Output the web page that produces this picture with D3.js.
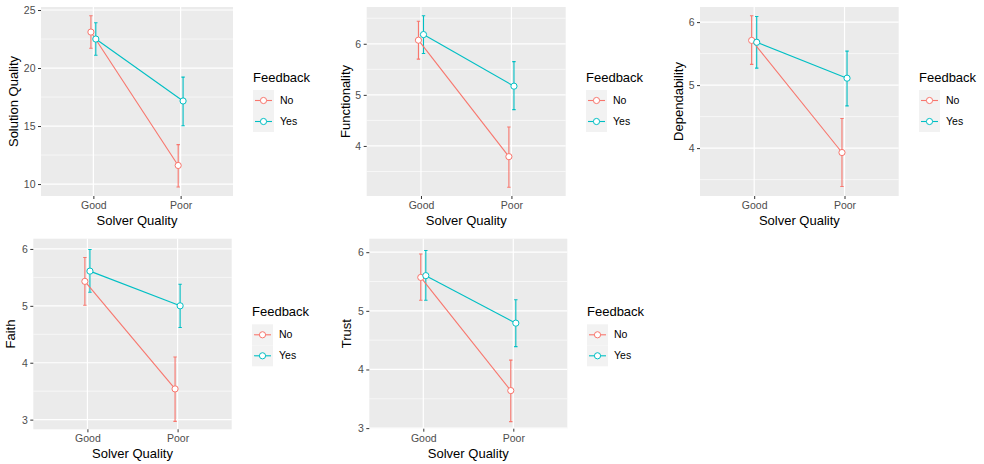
<!DOCTYPE html>
<html>
<head>
<meta charset="utf-8">
<script src="https://cdn.jsdelivr.net/npm/d3@7"></script>
<style>
  body { margin: 0; background: #fff; }
  svg { font-family: "Liberation Sans", Arial, Helvetica, sans-serif; }
</style>
</head>
<body>
<div class="svg-container"></div>
<script>
// Data
var measures = ["Solution Quality", "Functionality", "Dependability", "Faith", "Trust"];
var solverLevels = ["Good", "Poor"];
var feedbackLevels = ["No", "Yes"];

// means [Good, Poor] per measure
var meanNo  = [[23.1, 11.6], [6.07, 3.79], [5.71, 3.93], [5.43, 3.54], [5.57, 3.64]];
var meanYes = [[22.5, 17.16], [6.18, 5.17], [5.68, 5.11], [5.61, 5.00], [5.60, 4.79]];
// error bar ends
var lowNo   = [[21.7, 9.74], [5.70, 3.19], [5.33, 3.39], [5.01, 2.97], [5.18, 3.11]];
var highNo  = [[24.5, 13.4], [6.44, 4.37], [6.10, 4.47], [5.85, 4.10], [5.97, 4.16]];
var lowYes  = [[21.1, 15.03], [5.81, 4.71], [5.27, 4.67], [5.24, 4.62], [5.18, 4.39]];
var highYes = [[23.9, 19.22], [6.55, 5.65], [6.09, 5.54], [5.99, 5.38], [6.03, 5.19]];

// axis limits and ticks
var yDomains = [[8.97, 25.26], [3.02, 6.72], [3.24, 6.24], [2.83, 6.18], [2.99, 6.23]];
var yTicks = [[10, 15, 20, 25], [4, 5, 6], [4, 5, 6], [3, 4, 5, 6], [3, 4, 5, 6]];

var colors = {No: "#F8766D", Yes: "#00BFC4"};

// panel placement
var layout = [
  {left: 41,    right: 233,   top: 7,     bottom: 196,   ytx: 13,    legX: 253,   keyTop: 90},
  {left: 366.7, right: 565.7, top: 7,     bottom: 196,   ytx: 345,   legX: 586,   keyTop: 90},
  {left: 700,   right: 898.7, top: 7,     bottom: 196,   ytx: 678,   legX: 919,   keyTop: 90},
  {left: 33.3,  right: 231.7, top: 238.7, bottom: 429.3, ytx: 10.5,  legX: 252,   keyTop: 324.3},
  {left: 369.3, right: 567.3, top: 238.7, bottom: 428.7, ytx: 346.7, legX: 587,   keyTop: 324.3}
];

var svg = d3.select(".svg-container").append("svg")
    .attr("width", 984)
    .attr("height", 464);

svg.append("rect").attr("width", 984).attr("height", 464).attr("fill", "#fff");

var dodge = 0.028;

measures.forEach(function(measure, i) {
    var L = layout[i];
    var g = svg.append("g");

    var x = d3.scalePoint().domain(solverLevels).range([L.left, L.right]).padding(0.6);
    var y = d3.scaleLinear().domain(yDomains[i]).range([L.bottom, L.top]);
    var step = x.step();

    // panel background
    g.append("rect")
        .attr("x", L.left).attr("y", L.top)
        .attr("width", L.right - L.left).attr("height", L.bottom - L.top)
        .attr("fill", "#EBEBEB");

    // minor grid
    var ticks = yTicks[i];
    var half = (ticks[1] - ticks[0]) / 2;
    var minor = [];
    ticks.forEach(function(t) {
        [t - half, t + half].forEach(function(m) {
            if (m > yDomains[i][0] && m < yDomains[i][1] && minor.indexOf(m) < 0) minor.push(m);
        });
    });
    g.selectAll(".minor").data(minor).enter().append("line")
        .attr("x1", L.left).attr("x2", L.right)
        .attr("y1", function(d) { return y(d); }).attr("y2", function(d) { return y(d); })
        .attr("stroke", "#fff").attr("stroke-width", 0.6);

    // major grid
    g.selectAll(".major").data(ticks).enter().append("line")
        .attr("x1", L.left).attr("x2", L.right)
        .attr("y1", function(d) { return y(d); }).attr("y2", function(d) { return y(d); })
        .attr("stroke", "#fff").attr("stroke-width", 1.2);
    g.selectAll(".vmajor").data(solverLevels).enter().append("line")
        .attr("x1", function(d) { return x(d); }).attr("x2", function(d) { return x(d); })
        .attr("y1", L.top).attr("y2", L.bottom)
        .attr("stroke", "#fff").attr("stroke-width", 1.2);

    // axes
    var yaxis = d3.axisLeft(y).tickValues(ticks).tickFormat(d3.format("d")).tickSize(3).tickPadding(2.5);
    var ya = g.append("g").attr("transform", "translate(" + L.left + ",0)").call(yaxis);
    var xaxis = d3.axisBottom(x).tickSize(3).tickPadding(2.5);
    var xa = g.append("g").attr("transform", "translate(0," + L.bottom + ")").call(xaxis);
    [ya, xa].forEach(function(a) {
        a.select(".domain").remove();
        a.selectAll(".tick line").attr("stroke", "#333").attr("stroke-width", 1);
        a.selectAll(".tick text").attr("fill", "#4D4D4D").style("font-size", "10.5px")
            .style("font-family", "'Liberation Sans', Arial, sans-serif");
    });

    // axis titles
    g.append("text")
        .attr("x", (L.left + L.right) / 2).attr("y", L.bottom + 29)
        .attr("text-anchor", "middle").style("font-size", "13px").attr("fill", "#000")
        .text("Solver Quality");
    g.append("text")
        .attr("transform", "translate(" + (L.ytx + 4.5) + "," + ((L.top + L.bottom) / 2) + ") rotate(-90)")
        .attr("text-anchor", "middle").style("font-size", "13px").attr("fill", "#000")
        .text(measure);

    // series
    var series = [
        {key: "No",  mean: meanNo[i],  lo: lowNo[i],  hi: highNo[i],  off: -dodge},
        {key: "Yes", mean: meanYes[i], lo: lowYes[i], hi: highYes[i], off: dodge}
    ];
    series.forEach(function(s) {
        s.pts = solverLevels.map(function(lv, j) {
            return {level: lv, mean: s.mean[j], lo: s.lo[j], hi: s.hi[j], px: x(lv) + s.off * step};
        });
    });

    var capW = 1.7;
    // error bars
    series.forEach(function(s) {
        var eb = g.append("g").attr("stroke", colors[s.key]).attr("stroke-width", 1.1).attr("fill", "none");
        s.pts.forEach(function(p) {
            eb.append("path").attr("d",
                "M" + (p.px - capW) + "," + y(p.hi) + "H" + (p.px + capW) +
                "M" + p.px + "," + y(p.hi) + "V" + y(p.lo) +
                "M" + (p.px - capW) + "," + y(p.lo) + "H" + (p.px + capW));
        });
    });

    // lines
    var line = d3.line()
        .x(function(d) { return d.px; })
        .y(function(d) { return y(d.mean); });
    series.forEach(function(s) {
        g.append("path").datum(s.pts)
            .attr("d", line).attr("fill", "none")
            .attr("stroke", colors[s.key]).attr("stroke-width", 1.1);
    });

    // points
    series.forEach(function(s) {
        g.selectAll(null).data(s.pts).enter().append("circle")
            .attr("cx", function(d) { return d.px; })
            .attr("cy", function(d) { return y(d.mean); })
            .attr("r", 3.1)
            .attr("fill", "#fff")
            .attr("stroke", colors[s.key]).attr("stroke-width", 1);
    });

    // legend
    var lg = g.append("g");
    lg.append("text")
        .attr("x", L.legX).attr("y", L.keyTop - 8)
        .style("font-size", "13px").attr("fill", "#000")
        .text("Feedback");
    feedbackLevels.forEach(function(f, k) {
        var ky = L.keyTop + k * 21;
        lg.append("rect")
            .attr("x", L.legX).attr("y", ky).attr("width", 21).attr("height", 21)
            .attr("fill", "#F2F2F2");
        lg.append("line")
            .attr("x1", L.legX + 2).attr("x2", L.legX + 19)
            .attr("y1", ky + 10.5).attr("y2", ky + 10.5)
            .attr("stroke", colors[f]).attr("stroke-width", 1.1);
        lg.append("circle")
            .attr("cx", L.legX + 10.5).attr("cy", ky + 10.5).attr("r", 3.1)
            .attr("fill", "#fff").attr("stroke", colors[f]).attr("stroke-width", 1);
        lg.append("text")
            .attr("x", L.legX + 27).attr("y", ky + 10.5).attr("dy", "0.35em")
            .style("font-size", "10.5px").attr("fill", "#000")
            .text(f);
    });
});
</script>
</body>
</html>
